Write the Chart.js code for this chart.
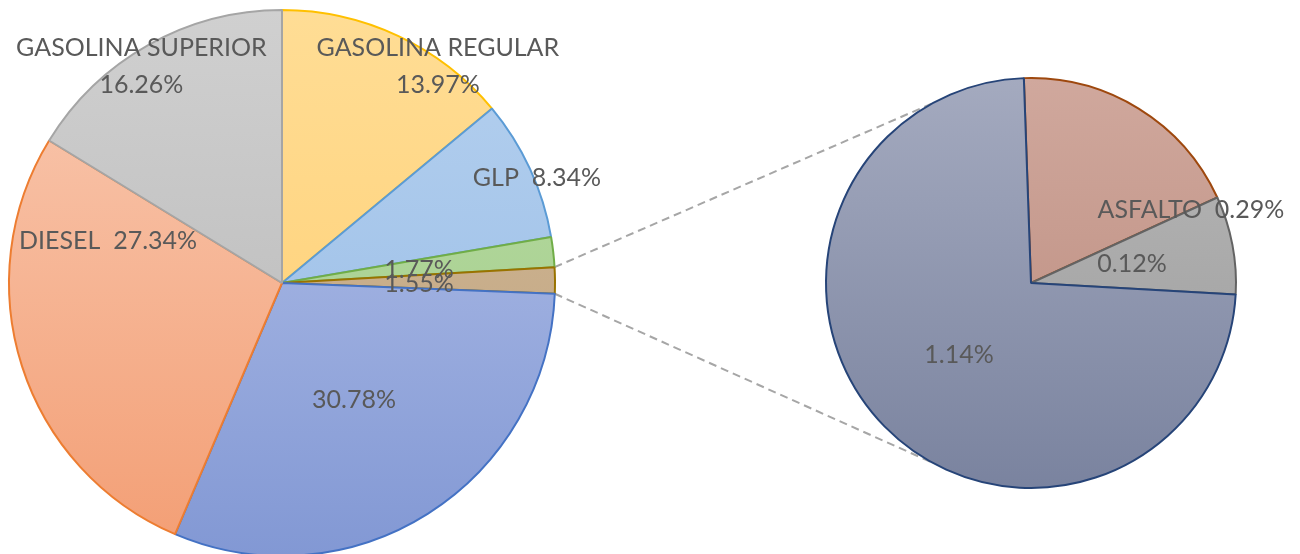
<!DOCTYPE html>
<html>
<head>
<meta charset="utf-8">
<script src="https://cdn.jsdelivr.net/npm/chart.js@4/dist/chart.umd.min.js"></script>
<style>
  html, body { margin: 0; padding: 0; background: #fff; overflow: hidden; }
  #wrap { position: relative; width: 1300px; height: 554px; overflow: hidden; }
  canvas { position: absolute; }
  #links { left: 0; top: 0; }
  #mainPie { left: 0; top: 0; }
  #subPie { left: 761px; top: 63px; }
</style>
</head>
<body>
<div id="wrap">
  <canvas id="links" width="1300" height="554"></canvas>
  <canvas id="mainPie" width="600" height="566"></canvas>
  <canvas id="subPie" width="540" height="440"></canvas>
</div>
<script>
// main pie, clockwise from 12 o'clock. index 3 is the slice split out to the small pie
const mainNames = ['GASOLINA REGULAR', 'GLP', '', '', '', 'DIESEL', 'GASOLINA SUPERIOR'];
const mainValues = [13.97, 8.34, 1.77, 1.55, 30.78, 27.34, 16.26];
const splitIndex = 3;

// small pie (breakdown of the 1.55%)
const subNames = ['ASFALTO', '', ''];
const subValues = [0.29, 0.12, 1.14];

// --- styles ---
const FONT = '25px Lato, "Open Sans", sans-serif';
const TEXT_COLOR = '#595959';

const mainTop    = ['#FFDD95', '#B6D1EF', '#B9DCA5', '#D2BA98', '#B8C5EB', '#F9CBB4', '#D0D0D0'];
const mainBottom = ['#FFCD6E', '#93B9E5', '#A0CB86', '#BFA27E', '#8298D4', '#F39E74', '#B5B5B5'];
const mainBorder = ['#FFC000', '#5B9BD5', '#70AD47', '#997300', '#4472C4', '#ED7D31', '#A5A5A5'];

const subTop    = ['#D0A89D', '#B8B8B8', '#A4AABF'];
const subBottom = ['#B9897B', '#9A9A9A', '#7A839F'];
const subBorder = ['#9E480E', '#636363', '#264478'];

// label centre, as offset from pie centre in units of radius; twoLine = name over value
const mainLabelPos = [[0.571, -0.795, true], [0.934, -0.385, false], [0.502, -0.048, false],
                      [0.502, 0.004, false], [0.264, 0.429, false], [-0.637, -0.154, false],
                      [-0.515, -0.795, true]];
const subLabelPos = [[0.78, -0.356, false], [0.493, -0.093, false], [-0.351, 0.351, false]];

const MAIN_R = 273;
const SUB_R = 205;
const LINK_ANGLE = 61 * Math.PI / 180;

function gradFill(tops, bottoms, radius) {
  return (ctx) => {
    const area = ctx.chart.chartArea;
    if (!area) return tops[ctx.dataIndex];
    const cy = (area.top + area.bottom) / 2;
    const g = ctx.chart.ctx.createLinearGradient(0, cy - radius, 0, cy + radius);
    g.addColorStop(0, tops[ctx.dataIndex]);
    g.addColorStop(1, bottoms[ctx.dataIndex]);
    return g;
  };
}

const labelPlugin = {
  id: 'sliceLabels',
  afterDatasetsDraw(chart, args, opts) {
    const ctx = chart.ctx;
    const arcs = chart.getDatasetMeta(0).data;
    ctx.save();
    ctx.font = FONT;
    ctx.fillStyle = TEXT_COLOR;
    ctx.textAlign = 'center';
    ctx.textBaseline = 'middle';
    arcs.forEach((arc, i) => {
      const p = opts.pos[i];
      const x = arc.x + p[0] * arc.outerRadius;
      const y = arc.y + p[1] * arc.outerRadius;
      const name = opts.names[i];
      const pct = opts.values[i].toFixed(2) + '%';
      if (name && p[2]) {
        ctx.fillText(name, x, y - 18.5);
        ctx.fillText(pct, x, y + 18.5);
      } else {
        ctx.fillText(name ? name + '  ' + pct : pct, x, y);
      }
    });
    ctx.restore();
  }
};

const mainChart = new Chart(document.getElementById('mainPie'), {
  type: 'pie',
  data: {
    labels: mainNames,
    datasets: [{
      data: mainValues,
      backgroundColor: gradFill(mainTop, mainBottom, MAIN_R),
      borderColor: mainBorder,
      borderWidth: 2
    }]
  },
  options: {
    responsive: false,
    animation: false,
    radius: MAIN_R,
    rotation: 0,
    layout: { padding: { right: 36 } },
    plugins: {
      legend: { display: false },
      tooltip: { enabled: false },
      sliceLabels: { names: mainNames, values: mainValues, pos: mainLabelPos }
    }
  },
  plugins: [labelPlugin]
});

const subChart = new Chart(document.getElementById('subPie'), {
  type: 'pie',
  data: {
    labels: subNames,
    datasets: [{
      data: subValues,
      backgroundColor: gradFill(subTop, subBottom, SUB_R),
      borderColor: subBorder,
      borderWidth: 2
    }]
  },
  options: {
    responsive: false,
    animation: false,
    radius: SUB_R,
    rotation: -2,
    plugins: {
      legend: { display: false },
      tooltip: { enabled: false },
      sliceLabels: { names: subNames, values: subValues, pos: subLabelPos }
    }
  },
  plugins: [labelPlugin]
});

// dashed connectors, under both pies
function drawLinks() {
  const c = document.getElementById('links');
  const ctx = c.getContext('2d');
  const mainCv = mainChart.canvas, subCv = subChart.canvas;
  const a = mainChart.getDatasetMeta(0).data[splitIndex];
  const b = subChart.getDatasetMeta(0).data[0];
  const ax = mainCv.offsetLeft + a.x, ay = mainCv.offsetTop + a.y;
  const bx = subCv.offsetLeft + b.x, by = subCv.offsetTop + b.y;
  const from = [
    [ax + a.outerRadius * Math.cos(a.startAngle), ay + a.outerRadius * Math.sin(a.startAngle)],
    [ax + a.outerRadius * Math.cos(a.endAngle), ay + a.outerRadius * Math.sin(a.endAngle)]
  ];
  const to = [
    [bx - b.outerRadius * Math.cos(LINK_ANGLE), by - b.outerRadius * Math.sin(LINK_ANGLE)],
    [bx - b.outerRadius * Math.cos(LINK_ANGLE), by + b.outerRadius * Math.sin(LINK_ANGLE)]
  ];
  ctx.strokeStyle = '#A6A6A6';
  ctx.lineWidth = 2;
  ctx.setLineDash([8, 5]);
  for (let i = 0; i < 2; i++) {
    ctx.beginPath();
    ctx.moveTo(from[i][0], from[i][1]);
    ctx.lineTo(to[i][0], to[i][1]);
    ctx.stroke();
  }
}
drawLinks();
</script>
</body>
</html>
